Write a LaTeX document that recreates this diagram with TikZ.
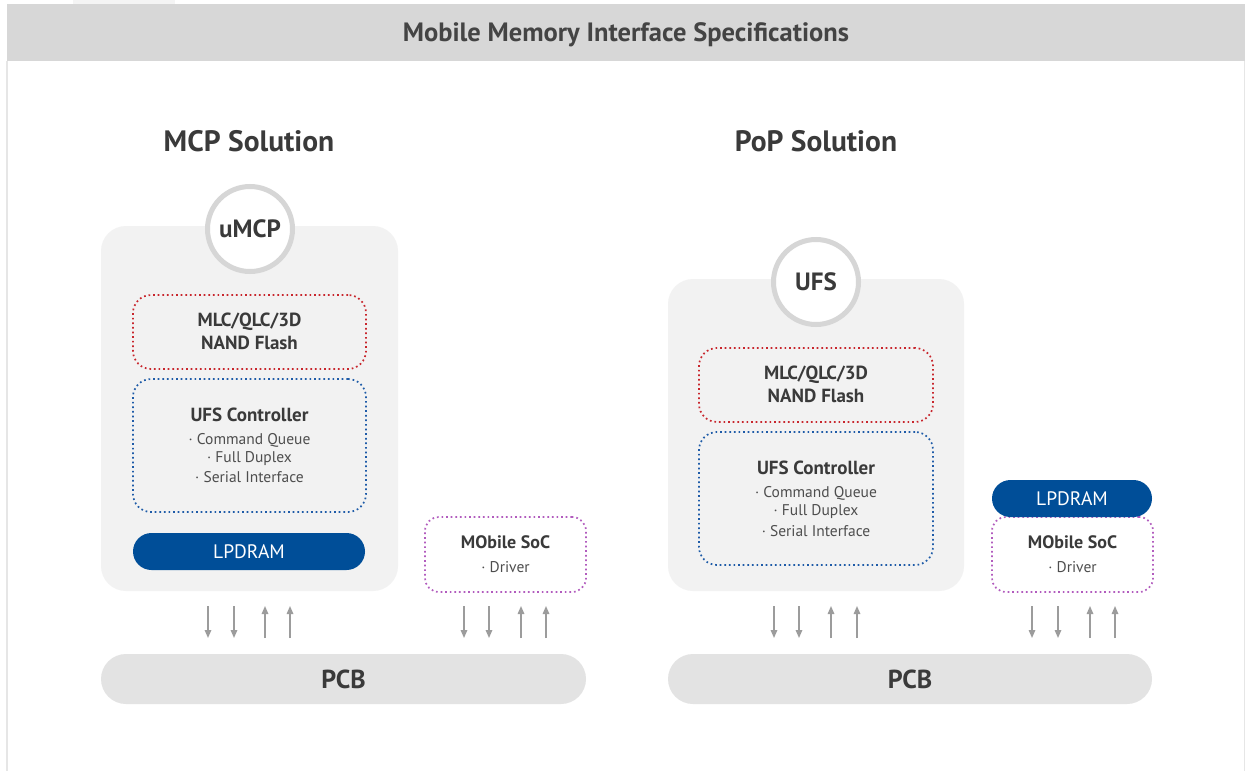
\documentclass[tikz,border=0pt]{standalone}
\usepackage{fontspec}
\setmainfont{PT Sans}
\usetikzlibrary{arrows.meta}
\definecolor{hdrfill}{HTML}{D7D7D7}
\definecolor{edgegray}{HTML}{E6E6E6}
\definecolor{tabgray}{HTML}{F4F4F4}
\definecolor{pkgfill}{HTML}{F2F2F2}
\definecolor{ringgray}{HTML}{D6D6D6}
\definecolor{pcbfill}{HTML}{E3E3E3}
\definecolor{dramblue}{HTML}{004E98}
\definecolor{nandred}{HTML}{C8262D}
\definecolor{ctrlblue}{HTML}{1E5BA8}
\definecolor{socpurple}{HTML}{B25CBE}
\definecolor{txtdark}{HTML}{3A3A3A}
\definecolor{arrgray}{HTML}{9C9C9C}
\begin{document}
\begin{tikzpicture}[x=1pt,y=-1pt,
  pkg/.style={fill=pkgfill,rounded corners=25pt,inner sep=0pt},
  ring/.style={circle,fill=white,draw=ringgray,line width=5pt,minimum size=85pt,inner sep=0pt},
  dotbox/.style={rectangle,rounded corners=18pt,line width=1.7pt,dash pattern=on 1.7pt off 2.9pt,inner sep=0pt},
  nandbox/.style={dotbox,draw=nandred},
  ctrlbox/.style={dotbox,draw=ctrlblue},
  socbox/.style={dotbox,draw=socpurple,fill=white,rounded corners=14pt},
  dram/.style={fill=dramblue,rounded corners=18.5pt,inner sep=0pt,text=white,font=\fontsize{19.5}{22}\selectfont},
  pcb/.style={fill=pcbfill,rounded corners=25pt,inner sep=0pt,text=txtdark,font=\bfseries\fontsize{26}{30}\selectfont},
  title/.style={text=txtdark!95,font=\bfseries\fontsize{26.5}{30}\selectfont,inner sep=0pt},
  heading/.style={text=txtdark,font=\bfseries\fontsize{29.5}{34}\selectfont,inner sep=0pt},
  ringtxt/.style={text=txtdark,font=\bfseries\fontsize{25}{29}\selectfont,inner sep=0pt},
  boldtxt/.style={text=txtdark,font=\bfseries\fontsize{19}{22}\selectfont,inner sep=0pt},
  itemtxt/.style={text=txtdark!90,font=\fontsize{15.5}{18}\selectfont,inner sep=0pt},
  arr/.style={draw=arrgray,line width=1.5pt,-{Triangle[width=6.5pt,length=8pt]}}
]
\useasboundingbox (0,0) rectangle (1245,771);
\fill[white] (0,0) rectangle (1245,771);
% frame
\fill[tabgray] (73,0) rectangle (175,4);
\node[fill=hdrfill,minimum width=1238pt,minimum height=57pt,inner sep=0pt] (hdr) at (626,32.5) {};
\node[title] (ttl) at (626,35) {Mobile Memory Interface Specifications};
\draw[edgegray,line width=1.5pt] (7,61) -- (7,771);
\draw[edgegray,line width=1pt] (1244.5,61) -- (1244.5,771);

% headings
\node[heading] (hA) at (249,141) {MCP Solution};
\node[heading] (hB) at (816,141) {PoP Solution};

% ---------- MCP ----------
\node[pkg,minimum width=297pt,minimum height=365pt] (pkgA) at (249.5,408.5) {};
\node[ring] (circA) at (250,229) {};
\node[ringtxt] (circAt) at (250,229) {uMCP};
\node[nandbox,minimum width=233pt,minimum height=74pt] (nandA) at (249.5,332) {};
\node[boldtxt] (nandA1) at (249.5,322) {MLC/QLC/3D};
\node[boldtxt] (nandA2) at (249.5,343) {NAND Flash};
\node[ctrlbox,minimum width=233pt,minimum height=133pt] (ufsA) at (249.5,445.5) {};
\node[boldtxt] (ufsA0) at (249.5,415) {UFS Controller};
\node[itemtxt] (ufsA1) at (249.5,440) {· Command Queue};
\node[itemtxt] (ufsA2) at (249.5,459) {· Full Duplex};
\node[itemtxt] (ufsA3) at (249.5,477) {· Serial Interface};
\node[dram,minimum width=232pt,minimum height=37pt] (lpA) at (249,551.5) {LPDRAM};
\node[socbox,minimum width=161pt,minimum height=75pt] (socA) at (505.5,554.5) {};
\node[boldtxt,font=\bfseries\fontsize{18}{21}\selectfont] (socA1) at (505.5,542) {MObile SoC};
\node[itemtxt] (socA2) at (505.5,567) {· Driver};
\node[pcb,minimum width=485pt,minimum height=50pt] (pcbA) at (343.5,679) {PCB};

% ---------- PoP ----------
\node[pkg,minimum width=296pt,minimum height=312pt] (pkgB) at (816,435) {};
\node[ring] (circB) at (816,282) {};
\node[ringtxt] (circBt) at (816,282) {UFS};
\node[nandbox,minimum width=234pt,minimum height=74pt] (nandB) at (816,385) {};
\node[boldtxt] (nandB1) at (816,375) {MLC/QLC/3D};
\node[boldtxt] (nandB2) at (816,396) {NAND Flash};
\node[ctrlbox,minimum width=234pt,minimum height=133pt] (ufsB) at (816,498.5) {};
\node[boldtxt] (ufsB0) at (816,468) {UFS Controller};
\node[itemtxt] (ufsB1) at (816,493) {· Command Queue};
\node[itemtxt] (ufsB2) at (816,512) {· Full Duplex};
\node[itemtxt] (ufsB3) at (816,531) {· Serial Interface};
\node[socbox,minimum width=161pt,minimum height=75pt] (socB) at (1072.5,554.5) {};
\node[boldtxt,font=\bfseries\fontsize{18}{21}\selectfont] (socB1) at (1072.5,542) {MObile SoC};
\node[itemtxt] (socB2) at (1072.5,567) {· Driver};
\node[dram,minimum width=160pt,minimum height=37pt] (lpB) at (1072,498.5) {LPDRAM};
\node[pcb,minimum width=484pt,minimum height=50pt] (pcbB) at (910,679) {PCB};

% ---------- arrows ----------
\foreach \n/\x in {a1/208,a2/234,a3/464,a4/489,b1/774,b2/799,b3/1032,b4/1058}{
  \coordinate (\n t) at (\x,606);
  \coordinate (\n b) at (\x,638);
  \draw[arr] (\n t) -- (\n b);
}
\foreach \n/\x in {u1/265,u2/290,u3/521,u4/546,v1/831,v2/857,v3/1090,v4/1115}{
  \coordinate (\n t) at (\x,606);
  \coordinate (\n b) at (\x,638);
  \draw[arr] (\n b) -- (\n t);
}
\end{tikzpicture}
\end{document}
